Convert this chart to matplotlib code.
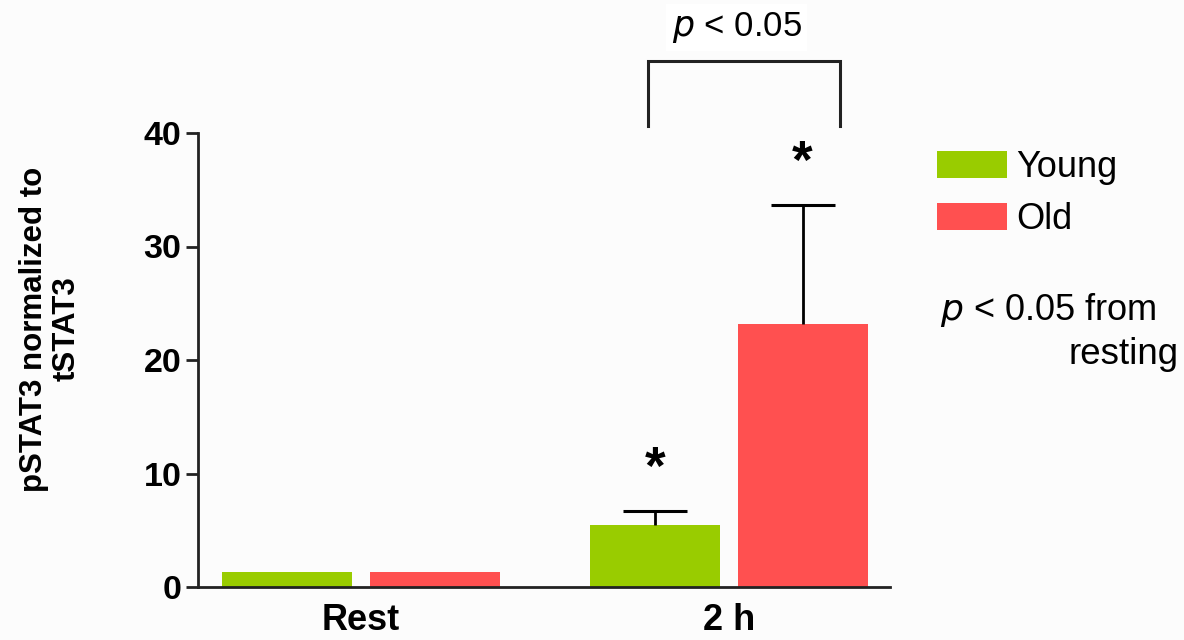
import matplotlib
matplotlib.use("Agg")
import matplotlib.pyplot as plt
from matplotlib.patches import Patch
import numpy as np

plt.rcParams['font.family'] = ['Liberation Sans', 'DejaVu Sans']

# Data
groups = ["Rest", "2 h"]
series = ["Young", "Old"]
young_mean = [1.3, 5.45]
old_mean = [1.3, 23.15]
young_err = [0.0, 1.25]
old_err = [0.0, 10.5]
colors = {"Young": "#99CC00", "Old": "#FF5050"}

W, H = 1184, 640
fig = plt.figure(figsize=(W / 100, H / 100), dpi=100, facecolor="#fcfcfc")
ax = fig.add_axes([198 / W, 53 / H, 692 / W, 454 / H])
ax.set_facecolor("#fcfcfc")

x = np.arange(len(groups))
width = 0.353
offset = 0.2

for vals, errs, name, sgn in [(young_mean, young_err, "Young", -1), (old_mean, old_err, "Old", 1)]:
    pos = x + sgn * offset
    ax.bar(pos, vals, width=width, color=colors[name], zorder=2)
    for p, v, e in zip(pos, vals, errs):
        if e > 0:
            _, caps, _ = ax.errorbar([p], [v], yerr=[[0], [e]], fmt="none", ecolor="black",
                                     elinewidth=2.0, capsize=23, capthick=2.2, zorder=3)
            # keep only the upper cap
            for c in caps:
                if np.isclose(c.get_ydata()[0], v):
                    c.set_visible(False)

ax.set_xlim(-0.443, 1.4375)
ax.set_ylim(0, 40)
ax.set_yticks([0, 10, 20, 30, 40])
ax.set_xticks([])
for s in ["top", "right"]:
    ax.spines[s].set_visible(False)
for s in ["left", "bottom"]:
    ax.spines[s].set_linewidth(2.0)
    ax.spines[s].set_color("#222222")
ax.tick_params(axis="y", length=9, width=2.0, labelsize=24.5, pad=3, color="#222222")
for lbl in ax.get_yticklabels():
    lbl.set_fontweight("bold")

# Group labels under the axis
for xi, g in zip(x, groups):
    ax.text(xi, -3.8, g, ha="center", va="baseline", fontsize=26, fontweight="bold")

fig.text(50 / W, 1 - 329 / H, "pSTAT3 normalized to\ntSTAT3", rotation=90,
         ha="center", va="center", fontsize=22.5, fontweight="bold", linespacing=1.1)

# Significance from resting
ax.text(x[1] - offset, young_mean[1] + young_err[1] + 3.6, "*", ha="center", va="center",
        fontsize=38, fontweight="bold")
ax.text(x[1] + offset, old_mean[1] + old_err[1] + 3.6, "*", ha="center", va="center",
        fontsize=38, fontweight="bold")

# Bracket between Young and Old at 2 h
bx0, bx1, by0, by1 = 0.78, 1.302, 40.6, 46.3
ax.plot([bx0, bx0, bx1, bx1], [by0, by1, by1, by0], color="#222222", lw=2.2,
        clip_on=False, solid_joinstyle="miter")
ax.text(1.021, 49.3, r"$\it{p}$ < 0.05", ha="center", va="center", fontsize=25,
        clip_on=False, bbox=dict(facecolor="white", edgecolor="none", pad=4))

# Legend
handles = [Patch(facecolor=colors[s], edgecolor="none") for s in series]
fig.legend(handles, series, loc="upper left", bbox_to_anchor=(937 / W, 1 - 150 / H),
           frameon=False, fontsize=26, handlelength=1.94, handleheight=0.78,
           handletextpad=0.25, labelspacing=0.47, borderaxespad=0, borderpad=0)

fig.text(940 / W, 1 - 310 / H, r"$\it{p}$ < 0.05 from", ha="left", va="center", fontsize=26)
fig.text(1179 / W, 1 - 355 / H, "resting", ha="right", va="center", fontsize=26.5)

fig.savefig("out.png", dpi=100, facecolor=fig.get_facecolor())
